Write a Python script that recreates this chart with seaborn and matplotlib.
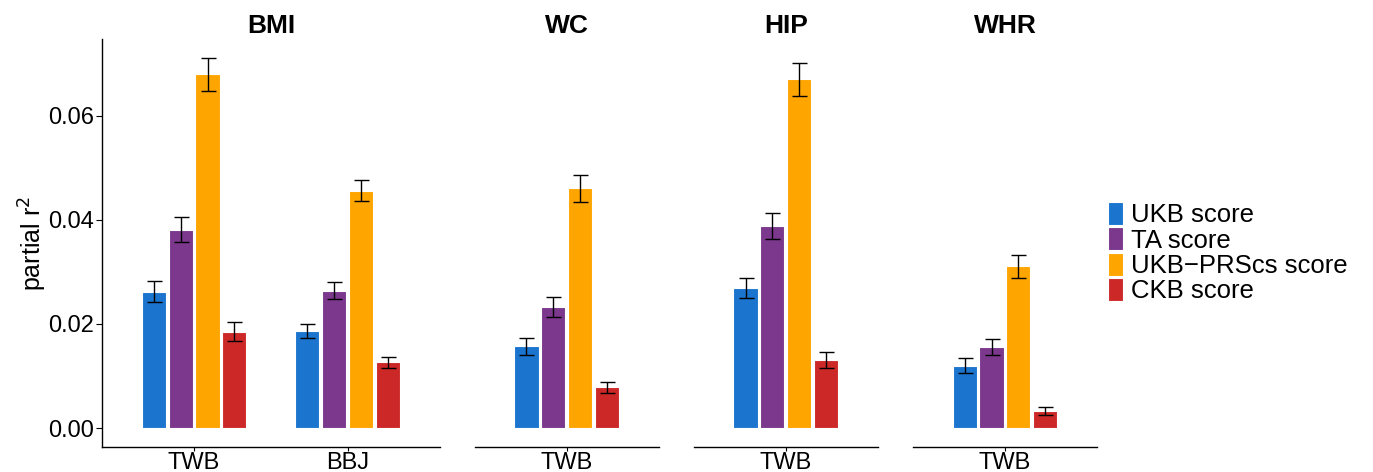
import numpy as np
import pandas as pd
import matplotlib
matplotlib.use("Agg")
import matplotlib.pyplot as plt
import seaborn as sns

# panel / cohort layout
panels = ["BMI", "WC", "HIP", "WHR"]
panel_cohorts = [["TWB", "BBJ"], ["TWB"], ["TWB"], ["TWB"]]
scores = ["UKB score", "TA score", "UKB\u2212PRScs score", "CKB score"]
score_colors = ["#1B75CF", "#7B388C", "#FFA500", "#CD2828"]

# one value per (panel, cohort) in order: BMI-TWB, BMI-BBJ, WC-TWB, HIP-TWB, WHR-TWB
ukb_r2 = [0.0262, 0.0187, 0.0157, 0.0269, 0.0120]
ta_r2 = [0.0381, 0.0264, 0.0232, 0.0389, 0.0156]
prscs_r2 = [0.0680, 0.0456, 0.0461, 0.0670, 0.0311]
ckb_r2 = [0.0185, 0.0126, 0.0078, 0.0131, 0.0033]

ukb_se = [0.0020, 0.0013, 0.0016, 0.0020, 0.0014]
ta_se = [0.0024, 0.0016, 0.0019, 0.0025, 0.0016]
prscs_se = [0.0032, 0.0020, 0.0026, 0.0031, 0.0022]
ckb_se = [0.0018, 0.0011, 0.0011, 0.0015, 0.0007]

# long-form table
rows = []
keys = [(p, c) for p, cs in zip(panels, panel_cohorts) for c in cs]
for s, vals, ses in zip(scores, [ukb_r2, ta_r2, prscs_r2, ckb_r2],
                        [ukb_se, ta_se, prscs_se, ckb_se]):
    for (p, c), v, e in zip(keys, vals, ses):
        rows.append({"trait": p, "cohort": c, "score": s, "r2": v, "se": e})
df = pd.DataFrame(rows)

sns.set_style("ticks")
plt.rcParams["font.family"] = ["Liberation Sans", "DejaVu Sans"]
plt.rcParams["text.color"] = "black"
plt.rcParams["axes.labelcolor"] = "black"

fig = plt.figure(figsize=(13.73, 4.72), dpi=100)
ratios = [len(cs) + 0.2 for cs in panel_cohorts]
gs = fig.add_gridspec(1, len(panels), width_ratios=ratios,
                      left=0.0743, right=0.799, bottom=0.0534, top=0.9167,
                      wspace=0.157)

ymin, ymax = -0.0036, 0.0747
handles, labels = None, None
for i, (p, cs) in enumerate(zip(panels, panel_cohorts)):
    ax = fig.add_subplot(gs[0, i])
    sub = df[df["trait"] == p]
    sns.barplot(data=sub, x="cohort", y="r2", hue="score", order=cs,
                hue_order=scores, palette=score_colors, saturation=1,
                width=0.7, gap=0.1, edgecolor="white", linewidth=0.8,
                errorbar=None, ax=ax, legend=(i == 0))
    # error bars at the bar centres seaborn placed
    for s, cont in zip(scores, ax.containers):
        for c, bar in zip(cs, cont):
            e = sub[(sub["score"] == s) & (sub["cohort"] == c)]["se"].iloc[0]
            xc = bar.get_x() + bar.get_width() / 2
            ax.errorbar(xc, bar.get_height(), yerr=e, fmt="none",
                        ecolor="black", elinewidth=1, capsize=5.4, capthick=1)
    if i == 0:
        handles, labels = ax.get_legend_handles_labels()
        ax.get_legend().remove()

    ax.set_xlim(-0.6, len(cs) - 0.4)
    ax.set_ylim(ymin, ymax)
    ax.set_title(p, fontsize=19, fontweight="bold", pad=4.5, color="black")
    ax.set_xlabel("")
    ax.tick_params(axis="x", labelsize=17, length=3, width=0.8, pad=0.5,
                   colors="black")
    for sp in ["top", "right"]:
        ax.spines[sp].set_visible(False)
    ax.spines["bottom"].set_linewidth(1)
    ax.spines["bottom"].set_color("black")
    if i == 0:
        ax.set_yticks([0.0, 0.02, 0.04, 0.06])
        ax.set_yticklabels(["0.00", "0.02", "0.04", "0.06"])
        ax.tick_params(axis="y", labelsize=17, length=4, width=0.8, pad=2,
                       colors="black")
        ax.spines["left"].set_linewidth(1)
        ax.spines["left"].set_color("black")
        ax.set_ylabel("partial r$^2$", fontsize=18, labelpad=-0.8)
    else:
        ax.spines["left"].set_visible(False)
        ax.set_yticks([])
        ax.set_ylabel("")

fig.legend(handles, labels, loc="center left", bbox_to_anchor=(0.807, 0.465),
           frameon=False, fontsize=18.5, handlelength=0.58, handleheight=1.0,
           handletextpad=0.3, labelspacing=0.0, borderpad=0, borderaxespad=0)

fig.savefig("out.png", dpi=100)
